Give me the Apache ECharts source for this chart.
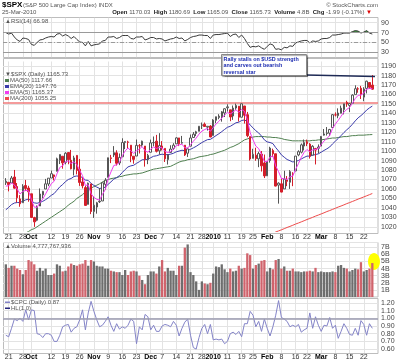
<!DOCTYPE html>
<html><head><meta charset="utf-8">
<script src="https://cdn.jsdelivr.net/npm/echarts/dist/echarts.min.js"></script>
<style>html,body{margin:0;padding:0;background:#fff}#c{width:400px;height:363px}</style>
</head><body><div id="c"></div>
<script>
// ---------- categories (trading days) ----------
const startDate = '2009-09-18', endDate = '2010-03-25';
const holidays = ['2009-11-26','2009-12-25','2010-01-01','2010-01-18','2010-02-15'];
const xTickDates = ['2009-09-21','2009-09-28','2009-10-01','2009-10-12','2009-10-19','2009-10-26','2009-11-02','2009-11-09','2009-11-16','2009-11-23','2009-12-01','2009-12-07','2009-12-14','2009-12-21','2009-12-28','2010-01-04','2010-01-11','2010-01-19','2010-01-25','2010-02-01','2010-02-08','2010-02-16','2010-02-22','2010-03-01','2010-03-08','2010-03-15','2010-03-22'];
const xTickText = ['21','28','Oct','12','19','26','Nov','9','16','23','Dec','7','14','21','28','2010','11','19','25','Feb','8','16','22','Mar','8','15','22'];
const monthTicks = ['Oct','Nov','Dec','2010','Feb','Mar'];

// ---------- price ----------
const prevClose0 = 1065.49;
const open = [
 1066.6,1067.1,1066.4,1072.7,1062.6,1049.5,1045.4,1063.7,1061.0,
 1054.9,1029.7,1026.9,1042.0,1053.7,1060.0,1065.3,1071.6,1074.9,1078.7,1090.4,1094.7,1088.2,1098.6,1090.4,1080.9,1095.6,1081.0,1067.5,1061.5,1043.7,1065.4,
 1036.2,1040.9,1047.1,1047.3,1064.9,1072.3,1092.2,1096.0,1098.3,1087.6,1094.1,1109.2,1109.4,1106.4,1094.7,1094.9,1105.8,1106.5,1105.5,1091.1,
 1098.9,1109.0,1110.6,1100.4,1105.5,1103.0,1091.1,1098.7,1103.0,1107.8,1114.1,1108.6,1106.4,1097.9,1105.3,1114.5,1118.8,1121.1,1127.5,1128.6,1125.5,1126.6,
 1116.6,1132.7,1135.7,1136.3,1140.5,1146.0,1143.8,1137.3,1145.7,1147.7,1136.0,1147.9,1138.7,1115.5,1092.4,1095.8,1091.9,1096.9,1087.6,
 1073.9,1090.1,1100.7,1097.3,1064.1,1065.5,1060.1,1069.5,1067.1,1076.0,1079.1,1096.1,1099.0,1105.5,1110.0,1107.5,1095.9,1101.2,1103.1,
 1105.4,1117.0,1119.4,1119.1,1125.1,1138.4,1137.6,1140.2,1144.0,1151.7,1148.5,1150.8,1159.9,1166.1,1166.7,1157.3,1166.5,1172.7,1170.03];
const high = [
 1071.5,1067.3,1073.8,1080.2,1066.3,1053.5,1065.1,1069.6,1063.4,
 1054.9,1030.6,1042.6,1060.6,1058.0,1070.7,1071.5,1079.5,1075.3,1093.2,1096.6,1094.7,1099.0,1098.6,1101.4,1095.2,1095.8,1091.8,1072.5,1063.3,1066.8,1065.4,
 1052.2,1046.4,1061.0,1066.7,1071.5,1093.2,1096.1,1105.4,1101.0,1097.6,1113.7,1110.5,1111.1,1106.4,1094.7,1112.4,1107.6,1111.2,1105.5,1097.2,
 1112.3,1115.6,1117.3,1119.1,1110.7,1103.0,1097.0,1106.3,1108.5,1114.8,1114.1,1116.2,1106.4,1103.7,1117.7,1120.3,1121.6,1126.5,1130.4,1130.4,1126.5,1127.6,
 1133.9,1136.6,1139.2,1142.5,1145.4,1149.7,1143.8,1148.4,1150.4,1147.8,1150.5,1147.9,1141.6,1115.5,1102.6,1103.7,1099.5,1100.2,1096.5,
 1089.4,1104.7,1102.7,1097.3,1067.1,1071.2,1079.3,1073.7,1080.0,1077.8,1095.0,1101.0,1108.2,1112.4,1112.3,1108.6,1106.4,1103.5,1107.2,
 1116.1,1123.5,1125.6,1123.7,1139.4,1141.1,1145.4,1148.3,1150.24,1153.4,1151.0,1160.3,1169.8,1167.8,1169.2,1167.8,1174.7,1173.0,1180.69];
const low = [
 1064.3,1057.5,1066.4,1060.4,1045.8,1041.2,1045.4,1057.8,1046.5,
 1029.5,1019.9,1025.9,1042.0,1050.1,1060.0,1063.0,1071.6,1069.1,1078.7,1086.4,1081.5,1086.1,1086.2,1080.8,1074.3,1075.5,1063.3,1060.6,1042.2,1043.7,1033.4,
 1029.4,1033.9,1045.2,1047.3,1059.3,1072.3,1087.4,1093.8,1084.9,1085.3,1094.1,1102.2,1102.7,1088.4,1086.8,1094.9,1097.6,1104.8,1083.7,1086.3,
 1098.9,1105.3,1098.7,1096.5,1100.8,1088.6,1085.9,1098.7,1101.3,1107.8,1105.4,1107.9,1095.0,1093.9,1105.3,1114.5,1116.0,1121.1,1123.5,1126.1,1121.9,1114.8,
 1116.6,1129.7,1133.9,1131.3,1136.2,1142.0,1131.8,1133.2,1143.8,1131.4,1136.0,1129.3,1114.8,1090.2,1092.4,1089.9,1083.1,1078.5,1071.6,
 1073.9,1087.9,1093.8,1062.8,1044.5,1056.5,1060.1,1063.0,1060.1,1063.0,1079.1,1094.7,1097.7,1100.8,1105.4,1092.2,1095.9,1086.0,1097.6,
 1105.4,1116.5,1116.6,1116.1,1125.1,1136.8,1134.9,1140.1,1139.0,1147.0,1141.5,1150.4,1159.9,1161.9,1155.3,1152.9,1161.2,1166.0,1165.09];
const close = [
 1068.30,1064.66,1071.66,1060.87,1050.78,1044.38,1062.98,1060.61,1057.08,
 1029.85,1025.21,1040.46,1054.72,1057.58,1065.48,1071.49,1076.19,1073.19,1092.02,1096.56,1087.68,1097.91,1091.06,1081.40,1092.91,1079.60,1066.95,1063.41,1042.63,1066.11,1036.19,
 1042.88,1045.41,1046.50,1066.63,1069.30,1093.08,1093.01,1098.51,1087.24,1093.48,1109.30,1110.32,1109.80,1094.90,1091.38,1106.24,1105.65,1110.63,1091.49,1095.63,
 1108.86,1109.24,1099.92,1105.98,1103.25,1091.94,1095.95,1102.35,1106.41,1114.11,1107.93,1109.18,1096.08,1102.47,1114.05,1118.02,1120.59,1126.48,1127.78,1126.20,1126.42,1115.10,
 1132.99,1136.52,1137.14,1141.69,1144.98,1146.98,1136.22,1145.68,1148.46,1136.03,1150.23,1138.04,1116.48,1091.76,1096.78,1092.17,1097.50,1084.53,1073.87,
 1089.19,1103.32,1097.28,1063.11,1066.19,1056.74,1070.52,1068.13,1078.47,1075.51,1094.87,1099.51,1106.75,1109.17,1108.01,1094.60,1105.24,1102.94,1104.49,
 1115.71,1118.31,1118.79,1122.97,1138.70,1138.50,1140.45,1145.61,1150.24,1149.99,1150.51,1159.46,1166.21,1165.83,1159.90,1165.81,1174.17,1167.72,1165.73];

// moving averages
const ema5Seed = 1063, ema20Seed = 1038;
const ma50 = [
 1003,1005,1006,1008,1009,1010,1012,1013.5,1015,1017,
 1018,1020,1022,1024,1026,1028,1030,1032,1034,1036,
 1038,1040,1043,1045,1047,1050,1052,1054,1057,1059,
 1061,1062.5,1064,1065.5,1067.5,1069,1070,1071,1071.5,1072,
 1073,1073.5,1074.5,1075,1075.5,1076,1076,1076.5,1077,1078,
 1079,1080,1081,1081.5,1082,1082.5,1083,1083.5,1084,1085.5,
 1087,1088.5,1089.5,1090,1091,1091.5,1092,1093,1094,1094.5,
 1095,1095.5,1096.5,1097,1098,1099,1100,1101,1102.5,1104,
 1105,1106.5,1108,1110,1112,1113,1114,1115,1115.5,1115.5,
 1115.5,1115.5,1115,1115,1114.5,1114.5,1114,1113.5,1112.5,1112,
 1111.5,1111,1111,1111,1111,1111,1111,1111,1111.5,1111.5,
 1112,1112,1112.5,1113,1113.5,1114,1114,1114.5,1115,1115.5,
 1115.5,1116,1116.5,1116.5,1117,1117,1117,1117.3,1117.5,1117.66];
const ma200FirstDate = '2010-01-26';
const ma200 = [1006.0,1007.3,1008.4,1009.6,1010.9,1012.0,1013.2,1014.5,1015.6,1016.8,1018.0,1019.3,1020.4,1021.6,1022.9,1024.0,1025.2,1026.4,1027.7,1028.8,1030.0,1031.3,1032.4,1033.6,1034.8,1036.1,1037.2,1038.4,1039.6,1040.9,1042.0,1043.2,1044.5,1045.6,1046.8,1048.0,1049.3,1050.4,1051.6,1052.8,1054.0,1055.25];
const priceLine = 1151.5;

// ---------- RSI(14) ----------
const rsi = [
 70,67,69,61,55,52,59,58,56,46, 44,50,55,56,59,61,62,61,67,68,
 63,66,63,58,62,56,51,50,43,52, 43,45,46,47,53,54,61,61,62,58,
 60,64,64,64,58,57,61,61,62,55, 57,60,60,57,58,57,53,55,57,58,
 61,58,59,53,56,60,62,63,65,65, 64,64,58,65,66,66,67,68,69,62,
 66,67,60,65,58,48,40,42,41,43, 39,36,42,47,45,36,37,35,40,39,
 43,42,49,51,53,54,54,49,53,52, 53,57,58,58,60,65,65,66,67,69,
 69,69,72,74,73,69,71,74,69,66.98];

// ---------- Volume (billions) ----------
const volume = [
 4.6,4.1,4.4,4.4,4.0,3.8,3.2,3.8,5.2,5.0, 4.6,3.7,4.1,3.7,4.0,3.1,3.1,3.3,4.6,4.4,
 3.6,3.7,4.3,4.7,4.5,4.4,4.6,4.7,5.2,4.4, 5.2,5.0,4.4,4.3,4.3,4.0,4.0,3.7,3.6,3.5,
 3.5,3.1,3.8,3.1,3.6,3.7,3.6,3.0,2.4,1.8, 3.1,3.6,3.6,3.3,4.3,5.2,3.6,4.1,3.7,3.7,
 3.1,4.4,4.4,6.95,7.4,3.5,3.1,2.2,1.0,2.2, 1.9,1.8,2.0,3.3,4.3,4.2,4.6,3.9,3.5,4.0,
 3.6,3.7,4.4,4.0,4.1,6.15,5.9,4.0,4.5,4.7, 5.1,5.2,3.6,4.1,3.9,5.2,5.35,4.0,4.3,3.7,
 3.7,4.0,3.6,3.6,3.5,3.6,3.6,3.7,3.6,4.1, 3.5,3.6,3.5,3.5,3.5,3.6,3.5,4.4,4.5,4.1,
 4.0,3.6,3.8,4.0,3.9,4.9,3.6,3.8,4.0,4.78];

// ---------- $CPC ----------
const cpc = [
 0.78,0.76,0.87,0.99,0.97,1.00,0.96,1.11,0.98,1.11, 1.10,0.80,0.79,0.75,0.80,0.80,0.78,0.70,0.70,0.78,
 0.89,0.91,0.92,0.82,0.87,0.89,0.98,1.11,0.85,1.07, 1.22,1.09,0.98,0.89,0.91,0.96,1.02,0.91,0.83,0.93,
 0.86,0.89,0.87,0.91,0.99,0.96,0.67,0.89,0.85,1.05, 1.02,0.85,0.91,0.83,0.83,0.90,0.92,0.91,0.89,0.96,
 0.91,0.77,0.87,0.95,0.99,0.78,0.62,0.60,0.75,0.87, 0.92,0.80,0.92,0.72,0.73,0.72,0.73,0.67,0.70,0.80,
 0.82,0.79,0.83,0.76,0.93,0.93,1.09,1.04,0.89,0.96, 0.83,0.99,0.87,0.77,0.89,1.04,1.23,1.01,0.99,0.96,
 0.89,0.91,0.89,0.92,0.82,0.85,0.87,1.07,0.87,1.02, 0.91,0.83,0.91,0.90,1.01,0.87,0.91,0.74,0.83,0.93,
 0.87,0.79,0.78,0.87,0.78,0.97,0.92,0.78,0.93,0.87];

// ---------- build ----------
function tradingDays(){
  const out=[]; const d=new Date(startDate+'T00:00:00Z'); const end=new Date(endDate+'T00:00:00Z');
  while(d<=end){ const wd=d.getUTCDay(); const s=d.toISOString().slice(0,10);
    if(wd!==0&&wd!==6&&holidays.indexOf(s)<0) out.push(s); d.setUTCDate(d.getUTCDate()+1); }
  return out;
}
function ema(arr,n,seed){ const k=2/(n+1); let e=seed; return arr.map((c,i)=> (e = i===0 ? seed : c*k + e*(1-k))); }
const dates = tradingDays();
const cats = [''].concat(dates, ['','']);
const pad = a => [null].concat(a, [null,null]);
const labelMap = {}; xTickDates.forEach((d,i)=>labelMap[d]=xTickText[i]);
const isTick = (i,v) => labelMap[v] !== undefined;
const RED='#d41e2a', DARK='#555', VRED='#d0636c', VGRAY='#6e6e6e';
const upDay = close.map((c,i)=> c >= (i ? close[i-1] : prevClose0));
const candleData = ['-'].concat(close.map((c,i)=>{
  const col = upDay[i] ? DARK : RED; const fill = c > open[i] ? '#fff' : col;
  return {value:[open[i],c,low[i],high[i]], itemStyle:{color:fill,color0:fill,borderColor:col,borderColor0:col}};
}), ['-','-']);
const volData = pad(volume.map((v,i)=>({value:v, itemStyle:{color: upDay[i]?VGRAY:VRED}})));
const ma200Full = dates.map(d=>null); const m0 = dates.indexOf(ma200FirstDate);
ma200.forEach((v,j)=>{ ma200Full[m0+j]=v; });
const rsiHigh = rsi.map(v=> v>70 ? v : 70);

const FF = '"Liberation Sans", Arial, sans-serif';
const GRIDC = '#e3e3e3';
const grids = [
  {left:3, width:375, top:17.8, height:39.4},
  {left:3, width:375, top:61.5, height:170},
  {left:3, width:375, top:242.3, height:54.7},
  {left:3, width:375, top:299.05, height:53.9}
];
function xAx(gi, showLabel, margin){
  return {type:'category', gridIndex:gi, data:cats, boundaryGap:false,
    axisLine:{show:false}, axisTick:{show:false},
    axisLabel:{show:showLabel, interval:isTick, margin:margin, fontSize:7, fontFamily:FF, color:'#333',
      formatter:v=>{ const t=labelMap[v]; if(t===undefined) return ''; return monthTicks.indexOf(t)>=0 ? '{b|'+t+'}' : t; },
      rich:{b:{fontWeight:'bold', fontSize:7, fontFamily:FF, color:'#000'}}},
    splitLine:{show:true, interval:isTick, lineStyle:{color:GRIDC, width:1}}};
}
const yLab = {fontSize:7, fontFamily:FF, color:'#444', margin:3};
const option = {
  animation:false, backgroundColor:'#fff',
  grid: grids,
  xAxis:[xAx(0,false,0), xAx(1,true,2), xAx(2,false,0), xAx(3,true,0.5)],
  yAxis:[
    {gridIndex:0, position:'right', min:20, max:100, interval:10, axisLine:{show:false}, axisTick:{show:false},
      axisLabel:Object.assign({formatter:v=> (v%20===10 ? String(v) : '')}, yLab),
      splitLine:{lineStyle:{color:['rgba(0,0,0,0)',GRIDC]}}},
    {gridIndex:1, position:'right', min:1015, max:1195, interval:5, axisLine:{show:false}, axisTick:{show:false},
      axisLabel:Object.assign({formatter:v=> (Math.round(v)%10===0 ? String(Math.round(v)) : '')}, yLab),
      splitLine:{lineStyle:{color:['rgba(0,0,0,0)',GRIDC]}}},
    {gridIndex:2, position:'right', min:0, max:7.7, interval:1, axisLine:{show:false}, axisTick:{show:false},
      axisLabel:Object.assign({showMinLabel:false, showMaxLabel:false, formatter:v=> v+'B'}, yLab),
      splitLine:{lineStyle:{color:GRIDC}}},
    {gridIndex:3, position:'right', min:0.55, max:1.25, interval:0.05, axisLine:{show:false}, axisTick:{show:false},
      axisLabel:Object.assign({formatter:v=>{ const r=Math.round(v*100); return r%10===0 ? (r/100).toFixed(2) : ''; }}, yLab),
      splitLine:{lineStyle:{color:['rgba(0,0,0,0)',GRIDC]}}}
  ],
  series:[
    {type:'line', xAxisIndex:0, yAxisIndex:0, data:pad(rsiHigh), symbol:'none', z:1,
      lineStyle:{width:0}, areaStyle:{origin:70, color:'#3f8f3f', opacity:1}},
    {type:'line', xAxisIndex:0, yAxisIndex:0, data:pad(rsi), symbol:'none', z:3,
      lineStyle:{width:1, color:'#3a3a3a'},
      markLine:{silent:true, symbol:'none', label:{show:false},
        data:[{yAxis:70, lineStyle:{color:'#9a9a9a', width:1, type:'solid'}},
              {yAxis:50, lineStyle:{color:'#9a9a9a', width:1, type:[4,2,1,2]}},
              {yAxis:30, lineStyle:{color:'#9a9a9a', width:1, type:'solid'}}]}},
    {type:'line', xAxisIndex:1, yAxisIndex:1, data:pad(ma200Full), symbol:'none', z:2,
      lineStyle:{width:1, color:'#ee4a4a'}},
    {type:'line', xAxisIndex:1, yAxisIndex:1, data:pad(ma50), symbol:'none', z:2,
      lineStyle:{width:1, color:'#4f7f4f'}},
    {type:'line', xAxisIndex:1, yAxisIndex:1, data:pad(ema(close,20,ema20Seed)), symbol:'none', z:2,
      lineStyle:{width:1, color:'#3b3bab'}},
    {type:'candlestick', xAxisIndex:1, yAxisIndex:1, data:candleData, barWidth:2, z:4,
      markLine:{silent:true, symbol:'none', label:{show:false}, z:3,
        data:[{yAxis:priceLine, lineStyle:{color:'#f07a7a', width:1.5, type:'solid'}}]}},
    {type:'line', xAxisIndex:1, yAxisIndex:1, data:pad(ema(close,5,ema5Seed)), symbol:'none', z:5,
      lineStyle:{width:1, color:'#f03cf0'}},
    {type:'bar', xAxisIndex:2, yAxisIndex:2, data:volData, barWidth:2.3, z:3},
    {type:'line', xAxisIndex:3, yAxisIndex:3, data:pad(cpc), symbol:'none', z:3,
      lineStyle:{width:1, color:'#8484c8'},
      markLine:{silent:true, symbol:'none', label:{show:false},
        data:[{yAxis:1.0, lineStyle:{color:'#9b9bb0', width:1.5, type:'solid'}}]}}
  ],
  graphic:{elements:[
    // panel frames
    {type:'rect', z:0, shape:{x:3.5,y:17.5,width:374.5,height:40}, style:{fill:'none', stroke:'#bdbdbd', lineWidth:1}},
    {type:'rect', z:0, shape:{x:3.5,y:58.5,width:374.5,height:175}, style:{fill:'none', stroke:'#bdbdbd', lineWidth:1}},
    {type:'rect', z:0, shape:{x:3.5,y:242.5,width:374.5,height:54.5}, style:{fill:'none', stroke:'#bdbdbd', lineWidth:1}},
    {type:'rect', z:0, shape:{x:3.5,y:298.5,width:374.5,height:55}, style:{fill:'none', stroke:'#bdbdbd', lineWidth:1}},
    // volume highlight
    {type:'ellipse', z:1, shape:{cx:374, cy:261.5, rx:6, ry:8.5}, style:{fill:'#ffff00'}},
    // header
    {type:'text', z:20, x:2, y:1, style:{text:'$SPX', font:'bold 8px '+FF, fill:'#000', verticalAlign:'top'}},
    {type:'text', z:20, x:23, y:2, style:{text:'(S&P 500 Large Cap Index) INDX', font:'6px '+FF, fill:'#555', verticalAlign:'top'}},
    {type:'text', z:20, x:2, y:9.5, style:{text:'25-Mar-2010', font:'6px '+FF, fill:'#555', verticalAlign:'top'}},
    {type:'text', z:20, x:378, y:2, style:{text:'© StockCharts.com', font:'6px '+FF, fill:'#555', align:'right', verticalAlign:'top'}},
    {type:'text', z:20, x:372, y:9.5, style:{align:'right', verticalAlign:'top', font:'6px '+FF, fill:'#555',
      text:'{b|Open} 1170.03  {b|High} 1180.69  {b|Low} 1165.09  {b|Close} 1165.73  {b|Volume} 4.8B  {b|Chg} -1.99 (-0.17%) {r|▼}',
      rich:{b:{font:'bold 6px '+FF, fill:'#222'}, r:{font:'6px '+FF, fill:'#d00'}}}},
    // RSI legend
    {type:'text', z:20, x:5, y:18.5, style:{text:'▲RSI(14) 66.98', font:'6px '+FF, fill:'#555', verticalAlign:'top'}},
    // price legend
    {type:'text', z:20, x:5, y:71.5, style:{text:'▼$SPX (Daily) 1165.73', font:'6px '+FF, fill:'#555', verticalAlign:'top'}},
    {type:'rect', z:20, shape:{x:5,y:79,width:4,height:3}, style:{fill:'#4f7f4f'}},
    {type:'text', z:20, x:10, y:77.5, style:{text:'MA(50) 1117.66', font:'6px '+FF, fill:'#555', verticalAlign:'top'}},
    {type:'rect', z:20, shape:{x:5,y:85,width:4,height:3}, style:{fill:'#3b3bab'}},
    {type:'text', z:20, x:10, y:83.5, style:{text:'EMA(20) 1147.76', font:'6px '+FF, fill:'#555', verticalAlign:'top'}},
    {type:'rect', z:20, shape:{x:5,y:91,width:4,height:3}, style:{fill:'#f03cf0'}},
    {type:'text', z:20, x:10, y:89.5, style:{text:'EMA(5) 1165.37', font:'6px '+FF, fill:'#555', verticalAlign:'top'}},
    {type:'rect', z:20, shape:{x:5,y:97,width:4,height:3}, style:{fill:'#ee4a4a'}},
    {type:'text', z:20, x:10, y:95.5, style:{text:'MA(200) 1055.25', font:'6px '+FF, fill:'#555', verticalAlign:'top'}},
    // volume legend
    {type:'text', z:20, x:5, y:243.5, style:{text:'▲Volume 4,777,767,936', font:'6px '+FF, fill:'#555', verticalAlign:'top'}},
    // CPC legend
    {type:'rect', z:20, shape:{x:5,y:301.5,width:5,height:1.5}, style:{fill:'#8484c8'}},
    {type:'text', z:20, x:11, y:299.5, style:{text:'$CPC (Daily) 0.87', font:'6px '+FF, fill:'#555', verticalAlign:'top'}},
    {type:'rect', z:20, shape:{x:5,y:307.5,width:5,height:1.5}, style:{fill:'#23237a'}},
    {type:'text', z:20, x:11, y:305.5, style:{text:'HL(1.0)', font:'6px '+FF, fill:'#555', verticalAlign:'top'}},
    // annotation
    {type:'line', z:21, shape:{x1:306, y1:75, x2:375, y2:76.5}, style:{stroke:'#1e2a55', lineWidth:1.3}},
    {type:'rect', z:22, shape:{x:221.5,y:54.5,width:85,height:21}, style:{fill:'#fff', stroke:'#888', lineWidth:1, shadowColor:'rgba(0,0,0,0.35)', shadowOffsetX:1, shadowOffsetY:1, shadowBlur:1}},
    {type:'text', z:23, x:223.5, y:56, style:{text:'Rally stalls on $USD strength\nand carves out bearish\nreversal star', font:'bold 5.4px '+FF, fill:'#1b2bb0', lineHeight:6.5, verticalAlign:'top'}}
  ]}
};
const chart = echarts.init(document.getElementById('c'));
chart.setOption(option);
</script>
</body></html>
